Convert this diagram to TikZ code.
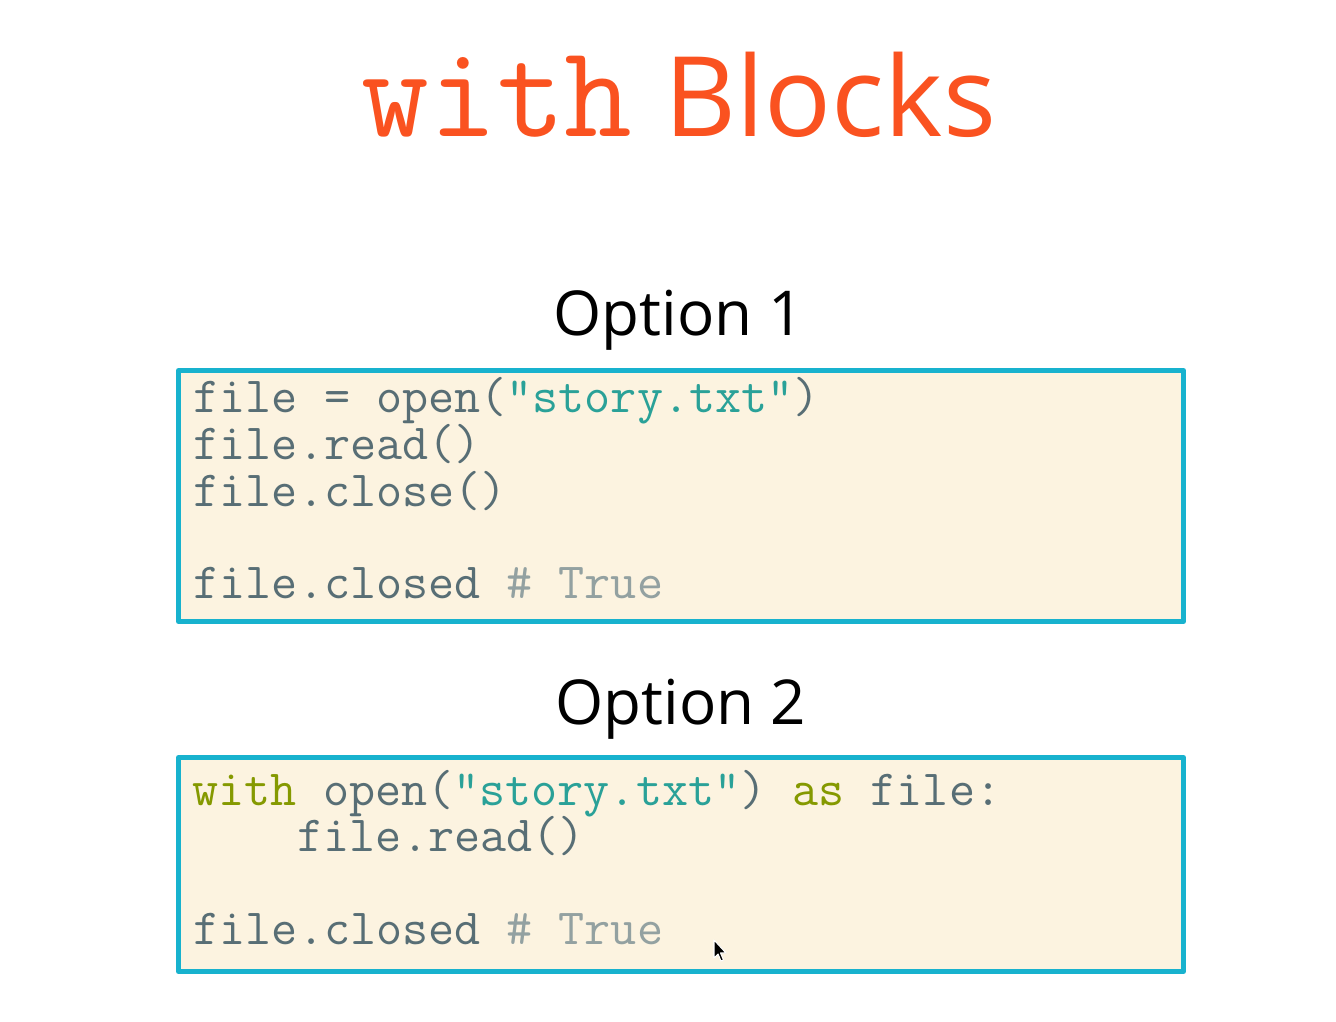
\documentclass[tikz,border=0pt]{standalone}
\usepackage{fontspec}
\setmainfont{Open Sans}
\usetikzlibrary{positioning}
\definecolor{titlered}{RGB}{250,82,32}
\definecolor{boxcyan}{RGB}{24,178,206}
\definecolor{boxbg}{RGB}{252,243,224}
\definecolor{codegrey}{RGB}{88,110,117}
\definecolor{codestr}{RGB}{42,161,152}
\definecolor{codekw}{RGB}{133,153,0}
\definecolor{codecmt}{RGB}{147,161,161}
\newcommand{\str}[1]{\textcolor{codestr}{#1}}
\newcommand{\kw}[1]{\textcolor{codekw}{#1}}
\newcommand{\cmt}[1]{\textcolor{codecmt}{#1}}

\begin{document}
\begin{tikzpicture}
    [x=0.01cm,y=-0.01cm,line join=round,
     codebox/.style={draw=boxcyan,fill=boxbg,line width=1.4pt},
     codeline/.style={anchor=base west,inner sep=0pt,text=codegrey,font=\ttfamily\fontsize{14.4}{16}\selectfont},
     optlabel/.style={anchor=base,inner sep=0pt,font=\fontsize{17.6}{22}\selectfont}]
%page
\useasboundingbox[fill=white] (0,0) rectangle (1336,1022);
%title
 \node[anchor=base west,inner sep=0pt,text=titlered,font=\ttfamily\fontsize{37.4}{42}\selectfont] (titlewith) at (361,137) {with};
 \node[anchor=base west,inner sep=0pt,text=titlered,font=\fontsize{31.6}{38}\selectfont] (titleblocks) at (664,137) {Blocks};

%option 1
 \node[optlabel] (opt1) at (679,336) {Option 1};
 \draw[codebox] (178.5,370.5) rectangle (1183.5,621.5);
  \node[codeline] (a1) at (193,413) {file = open(\str{"story.txt"})};
  \node[codeline] (a2) at (193,460) {file.read()};
  \node[codeline] (a3) at (193,507) {file.close()};
  \node[codeline] (a5) at (193,599) {file.closed \cmt{\# True}};

%option 2
 \node[optlabel] (opt2) at (681,725) {Option 2};
 \draw[codebox] (178.5,757.5) rectangle (1183.5,971.5);
  \node[codeline] (b1) at (192,806) {\kw{with} open(\str{"story.txt"}) \kw{as} file:};
  \node[codeline] (b2) at (297,852) {file.read()};
  \node[codeline] (b4) at (193,945) {file.closed \cmt{\# True}};

%mouse pointer
 \filldraw[fill=black,draw=white,line width=0.3pt] (714,940) -- (714,958) -- (718,954) -- (721,961) -- (723.5,960) -- (720.5,953) -- (726,953) -- cycle;
\end{tikzpicture}
\end{document}
